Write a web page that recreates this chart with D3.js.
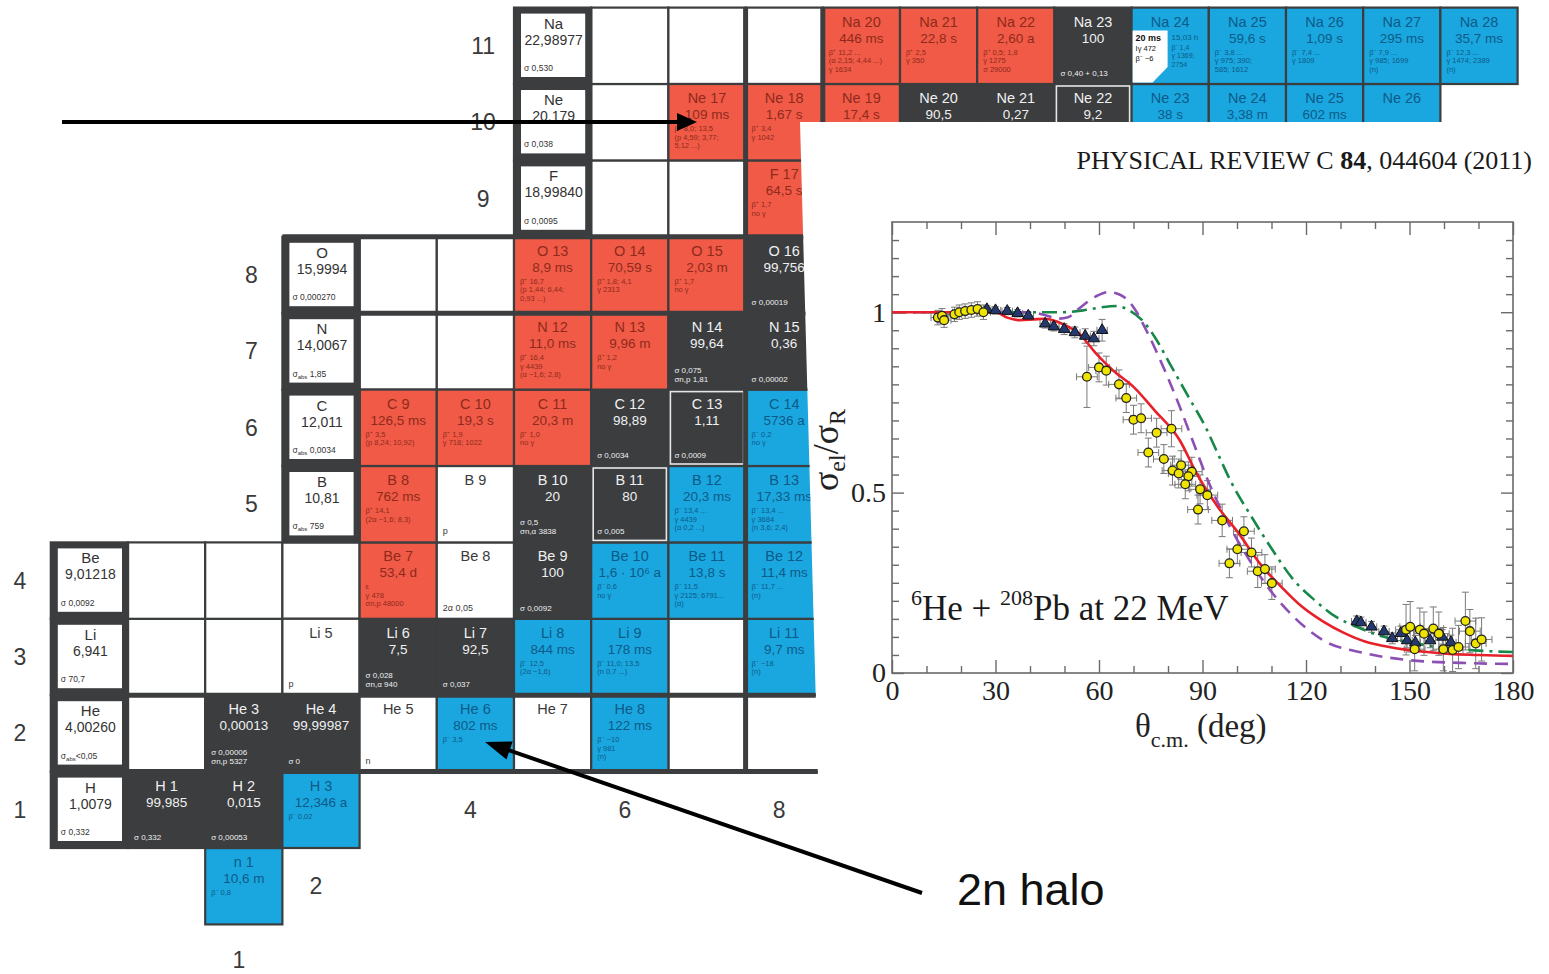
<!DOCTYPE html>
<html><head><meta charset="utf-8">
<script src="https://cdn.jsdelivr.net/npm/d3@7"></script>
<style>body{margin:0;background:#fff}svg{display:block}</style>
</head><body>
<svg id="c" width="1549" height="974"></svg>
<script>
// ================= DATA: chart of nuclides =================
const elemSymbols = ["H","He","Li","Be","B","C","N","O","F","Ne","Na"];
const elemZ       = [1,2,3,4,5,6,7,8,9,10,11];
const elemCol     = [-1,-1,-1,-1,2,2,2,2,5,5,5];
const elemWeights = ["1,0079","4,00260","6,941","9,01218","10,81","12,011","14,0067","15,9994","18,99840","20,179","22,98977"];
const elemSigma   = ["σ 0,332","σabs<0,05","σ 70,7","σ 0,0092","σabs 759","σabs 0,0034","σabs 1,85","σ 0,000270","σ 0,0095","σ 0,038","σ 0,530"];

const emptyZ = [2,2,2,3,3,3,4,4,4,7,7,8,8,9,9,10,11,11,11];
const emptyN = [0,7,8,0,1,7,0,1,2,3,4,3,4,6,7,6,6,7,8];

const nucNames = ["n 1","H 1","H 2","H 3","He 3","He 4","He 5","He 6","He 7","He 8",
  "Li 5","Li 6","Li 7","Li 8","Li 9","Li 11",
  "Be 7","Be 8","Be 9","Be 10","Be 11","Be 12",
  "B 8","B 9","B 10","B 11","B 12","B 13",
  "C 9","C 10","C 11","C 12","C 13","C 14",
  "N 12","N 13","N 14","N 15",
  "O 13","O 14","O 15","O 16","F 17",
  "Ne 17","Ne 18","Ne 19","Ne 20","Ne 21","Ne 22","Ne 23","Ne 24","Ne 25","Ne 26",
  "Na 20","Na 21","Na 22","Na 23","Na 24","Na 25","Na 26","Na 27","Na 28"];
const nucZ = [0,1,1,1,2,2,2,2,2,2, 3,3,3,3,3,3, 4,4,4,4,4,4, 5,5,5,5,5,5, 6,6,6,6,6,6, 7,7,7,7, 8,8,8,8,9,
  10,10,10,10,10,10,10,10,10,10, 11,11,11,11,11,11,11,11,11];
const nucN = [1,0,1,2,1,2,3,4,5,6, 2,3,4,5,6,8, 3,4,5,6,7,8, 3,4,5,6,7,8, 3,4,5,6,7,8, 5,6,7,8, 5,6,7,8,8,
  7,8,9,10,11,12,13,14,15,16, 9,10,11,12,13,14,15,16,17];
// s = stable, p = beta+ / EC, m = beta-, u = particle unbound
const nucType = ["m","s","s","m","s","s","u","m","u","m", "u","s","s","m","m","m", "p","u","s","m","m","m",
  "p","u","s","s","m","m", "p","p","p","s","s","m", "p","p","s","s", "p","p","p","s","p",
  "p","p","p","s","s","s","m","m","m","m", "p","p","p","s","m","m","m","m","m"];
const nucValue = ["10,6 m","99,985","0,015","12,346 a","0,00013","99,99987","","802 ms","","122 ms",
  "","7,5","92,5","844 ms","178 ms","9,7 ms",
  "53,4 d","","100","1,6 · 10⁶ a","13,8 s","11,4 ms",
  "762 ms","","20","80","20,3 ms","17,33 ms",
  "126,5 ms","19,3 s","20,3 m","98,89","1,11","5736 a",
  "11,0 ms","9,96 m","99,64","0,36",
  "8,9 ms","70,59 s","2,03 m","99,756","64,5 s",
  "109 ms","1,67 s","17,4 s","90,5","0,27","9,2","38 s","3,38 m","602 ms","",
  "446 ms","22,8 s","2,60 a","100","15,03 h","59,6 s","1,09 s","295 ms","35,7 ms"];
const nucInfo = ["β⁻ 0,8","σ 0,332","σ 0,00053","β⁻ 0,02","σ 0,00006|σn,p 5327","σ 0","n","β⁻ 3,5","","β⁻ ~10|γ 981|(n)",
  "p","σ 0,028|σn,α 940","σ 0,037","β⁻ 12,5|(2α ~1,6)","β⁻ 11,0; 13,5|(n 0,7 ...)","β⁻ ~18|(n)",
  "ε|γ 478|σn,p 48000","2α 0,05","σ 0,0092","β⁻ 0,6|no γ","β⁻ 11,5|γ 2125; 6791...|(α)","β⁻ 11,7 ...|(n)",
  "β⁺ 14,1|(2α ~1,6; 8,3)","p","σ 0,5|σn,α 3838","σ 0,005","β⁻ 13,4 ...|γ 4439|(α 0,2 ...)","β⁻ 13,4 ...|γ 3684|(n 3,6; 2,4)",
  "β⁺ 3,5|(p 8,24; 10,92)","β⁺ 1,9|γ 718; 1022","β⁺ 1,0|no γ","σ 0,0034","σ 0,0009","β⁻ 0,2|no γ",
  "β⁺ 16,4|γ 4439|(α ~1,6; 2,8)","β⁺ 1,2|no γ","σ 0,075|σn,p 1,81","σ 0,00002",
  "β⁺ 16,7|(p 1,44; 6,44;|0,93 ...)","β⁺ 1,8; 4,1|γ 2313","β⁺ 1,7|no γ","σ 0,00019","β⁺ 1,7|no γ",
  "β⁺ 8,0; 13,5|(p 4,59; 3,77;|5,12 ...)","β⁺ 3,4|γ 1042","β⁺ 2,2|no γ","σ 0,039","σ 0,7","σ 0,046","β⁻ 4,4|γ 440","β⁻ 2,0|γ 472","β⁻ 7,3","",
  "β⁺ 11,2 ...|(α 2,15; 4,44 ...)|γ 1634","β⁺ 2,5|γ 350","β⁺ 0,5; 1,8|γ 1275|σ 29000","σ 0,40 + 0,13","β⁻ 1,4|γ 1369;|2754","β⁻ 3,8 ...|γ 975; 390;|585; 1612","β⁻ 7,4 ...|γ 1809","β⁻ 7,9 ...|γ 985; 1699|(n)","β⁻ 12,3 ...|γ 1474; 2389|(n)"];
const framedStable = ["B 11","C 13","Ne 22"];
const isoName  = ["Na 24"];
const isoLines = ["20 ms|Iγ 472|β⁻ ~6"];

const zLabels = ["1","2","3","4","5","6","7","8","9","10","11"];
const zLabelN = [-1.4,-1.4,-1.4,-1.4,1.6,1.6,1.6,1.6,4.6,4.6,4.6];
const nLabels = ["1","2","4","6","8"];
const nLabelN = [1,2,4,6,8];
const nLabelZ = [-1,0,1,1,1];

// ================= DATA: inset plot =================
const xMajorTicks = [0,30,60,90,120,150,180];
const xMinorTicks = [10,20,40,50,70,80,100,110,130,140,160,170];
const yMajorTicks = [0,0.5,1];
const yMinorTicks = [0.05,0.1,0.15,0.2,0.25,0.3,0.35,0.4,0.45,0.55,0.6,0.65,0.7,0.75,0.8,0.85,0.9,0.95,1.05,1.1,1.15,1.2];

const redTheta = [0,20,30,33.4,37,41,44.4,48.1,51,54.2,59.1,64,70,76.1,83.4,88.3,94.4,100.5,106.6,112.7,118.8,124.9,131,137.1,143,149.3,155,161.5,170,180];
const redRatio = [1,1,1,0.985,0.978,0.98,0.982,0.973,0.96,0.941,0.886,0.839,0.793,0.728,0.645,0.553,0.461,0.387,0.304,0.24,0.184,0.143,0.111,0.087,0.074,0.064,0.058,0.053,0.05,0.047];
const greenTheta = [0,40,45,49.3,55.4,60.3,65.1,68.8,72.6,76.1,81,85.9,90.8,94.4,98,104.2,110.3,116.4,122.5,128.6,134.7,141,150,160,170,180];
const greenRatio = [1,1,1,1,1.005,1.013,1.017,1.005,0.977,0.932,0.849,0.766,0.683,0.609,0.535,0.433,0.341,0.258,0.202,0.156,0.128,0.105,0.085,0.07,0.062,0.058];
const purpleTheta = [0,40,45,48.1,51,54.2,59.1,62.7,66.4,70,73.7,78.6,83.4,87.1,91.9,98,104.2,110.3,116.4,124.9,137.1,149.3,165,180];
const purpleRatio = [1,1,0.99,0.982,0.986,1.01,1.044,1.056,1.047,1.014,0.95,0.849,0.738,0.645,0.526,0.405,0.304,0.221,0.156,0.091,0.055,0.036,0.028,0.025];

const yellowTheta = [13.3,14.5,15.1,18.1,19.5,21.2,23.0,24.8,26.5,
  56.5,60.0,62.1,65.8,67.9,70.0,72.2,76.7,81.0,74.3,78.8,81.3,83.1,83.8,86.9,85.9,85.0,89.3,91.4,88.7,95.7,102.0,100.1,104.2,97.8,106.0,108.1,110.1,
  149.0,150.2,153.0,154.2,156.9,158.5,151.5,159.8,162.5,164.2,166.2,167.5,169.2,170.9];
const yellowRatio = [0.985,0.99,0.978,0.994,1.0,1.003,1.006,1.009,1.0,
  0.821,0.847,0.838,0.800,0.762,0.702,0.706,0.666,0.677,0.611,0.593,0.561,0.553,0.576,0.558,0.545,0.523,0.509,0.493,0.453,0.423,0.393,0.343,0.334,0.304,0.282,0.288,0.249,
  0.120,0.128,0.120,0.109,0.123,0.109,0.066,0.066,0.064,0.072,0.144,0.116,0.082,0.093];
const yellowDy = [0.02,0.02,0.02,0.02,0.02,0.02,0.02,0.02,0.02,
  0.085,0.04,0.04,0.04,0.04,0.04,0.04,0.04,0.05,0.04,0.04,0.04,0.04,0.04,0.04,0.04,0.04,0.04,0.04,0.04,0.045,0.04,0.04,0.04,0.04,0.045,0.04,0.045,
  0.07,0.07,0.06,0.06,0.06,0.06,0.06,0.06,0.06,0.06,0.08,0.06,0.07,0.06];
const yellowDx = [2,2,2,2,2,2,2,2,2,
  3,3,3,3,3,3,3,3,3,3,3,3,3,3,3,3,3,3,3,3,3,3,3,3,3,3,3,3,
  3,3,3,3,3,3,3,3,3,3,3,3,3,3];
const triTheta = [27.5,30,33.4,36.4,39.5,44.4,46.9,49.9,53.0,56.0,58.5,60.9,
  134.7,135.9,139.0,142.6,145.0,147.5,149.3,151.7,156.0,159.5,162.0];
const triRatio = [1.008,1.005,1.003,0.997,0.99,0.968,0.960,0.953,0.944,0.934,0.927,0.950,
  0.143,0.140,0.128,0.115,0.096,0.110,0.090,0.084,0.090,0.100,0.085];
const triDy = [0.01,0.01,0.01,0.01,0.01,0.012,0.012,0.015,0.015,0.02,0.02,0.03,
  0.015,0.015,0.015,0.015,0.015,0.02,0.02,0.02,0.02,0.02,0.02];
const triDx = [1.5,1.5,1.5,1.5,1.5,1.5,1.5,1.5,1.5,1.5,1.5,1.5,
  1.5,1.5,1.5,1.5,1.5,1.5,1.5,1.5,1.5,1.5,1.5];

// ================= DRAWING =================
const svg = d3.select("#c");
const SANS = "'Liberation Sans', Arial, sans-serif";
const SERIF = "'Liberation Serif', 'Times New Roman', serif";
const DARK = "#3b3d3f";
const typeFill = {s: DARK, p: "#f15a46", m: "#1aa7df", u: "#ffffff"};
const typeText = {s: "#f0f0f0", p: "#8e2a1c", m: "#0d5a88", u: "#3a3a3a"};

const xN = d3.scaleLinear().domain([0,17]).range([128,1440.4]);
const yZ = d3.scaleLinear().domain([0,11]).range([848,7.6]);
const cw = xN(1) - xN(0), ch = yZ(0) - yZ(1);

// visible region of the scanned chart (the inset page covers the rest)
const CLIP_TOP = 122;
function visible(x, y){ return y < CLIP_TOP || x < 800 + (y - CLIP_TOP) * 18 / 658; }

svg.append("defs").append("clipPath").attr("id","chartClip")
  .append("polygon").attr("points","0,0 1549,0 1549,122 800,122 818,780 818,974 0,974");

const chart = svg.append("g").attr("clip-path","url(#chartClip)");

// empty cells
chart.append("g").selectAll("rect").data(d3.range(emptyZ.length)).join("rect")
  .attr("x", i => xN(emptyN[i])).attr("y", i => yZ(emptyZ[i]))
  .attr("width", cw).attr("height", ch)
  .attr("fill","#fff").attr("stroke", DARK).attr("stroke-width", 2.2);

// nuclide cells
const nIdx = d3.range(nucNames.length);
chart.append("g").selectAll("rect").data(nIdx).join("rect")
  .attr("x", i => xN(nucN[i])).attr("y", i => yZ(nucZ[i]))
  .attr("width", cw).attr("height", ch)
  .attr("fill", i => typeFill[nucType[i]]).attr("stroke", DARK).attr("stroke-width", 2.2);

chart.append("g").selectAll("rect").data(nIdx.filter(i => framedStable.includes(nucNames[i]))).join("rect")
  .attr("x", i => xN(nucN[i]) + 2).attr("y", i => yZ(nucZ[i]) + 2)
  .attr("width", cw - 4).attr("height", ch - 4)
  .attr("fill","none").attr("stroke","#e6e6e6").attr("stroke-width",1.6);

// element boxes
const eIdx = d3.range(elemSymbols.length);
chart.append("g").selectAll("rect").data(eIdx).join("rect")
  .attr("x", i => xN(elemCol[i])).attr("y", i => yZ(elemZ[i]))
  .attr("width", cw).attr("height", ch).attr("fill", DARK).attr("stroke", DARK).attr("stroke-width", 2.2);
chart.append("g").selectAll("rect").data(eIdx).join("rect")
  .attr("x", i => xN(elemCol[i]) + 7).attr("y", i => yZ(elemZ[i]) + 6)
  .attr("width", cw - 13).attr("height", ch - 13).attr("fill", "#fff");

// magic-number lines
const magic = chart.append("g").attr("stroke", DARK).attr("stroke-width", 5);
[8,9].forEach(n => magic.append("line").attr("x1", xN(n)).attr("x2", xN(n)).attr("y1", yZ(11)).attr("y2", yZ(1)));
[8,7].forEach(z => magic.append("line").attr("x1", xN(2)).attr("x2", xN(9)).attr("y1", yZ(z)).attr("y2", yZ(z)));
[2,1].forEach(z => magic.append("line").attr("x1", xN(-1)).attr("x2", xN(9)).attr("y1", yZ(z)).attr("y2", yZ(z)));

// isomer corner of Na 24
isoName.forEach((nm, k) => {
  const i = nucNames.indexOf(nm);
  const x0 = xN(nucN[i]), y0 = yZ(nucZ[i]);
  chart.append("polygon")
    .attr("points", [[x0+1,y0+23],[x0+36,y0+23],[x0+36,y0+ch-17],[x0+21,y0+ch-1.5],[x0+1,y0+ch-1.5]].map(p => p.join(",")).join(" "))
    .attr("fill","#fff");
  isoLines[k].split("|").forEach((t, j) => chart.append("text")
    .attr("x", x0 + 4).attr("y", y0 + 33 + j*10).text(t)
    .attr("font-family", SANS).attr("font-size", j === 0 ? 9 : 7.5).attr("font-weight", j === 0 ? "bold" : "normal").attr("fill","#111"));
});

// cell texts (only those in the visible part of the scan)
const txt = chart.append("g").attr("font-family", SANS);
function put(x, y, s, size, col, anchor){
  if (!visible(x, y - size*0.6)) return;
  txt.append("text").attr("x", x).attr("y", y).attr("text-anchor", anchor || "start")
    .attr("font-size", size).attr("fill", col).text(s);
}
nIdx.forEach(i => {
  const x0 = xN(nucN[i]), y0 = yZ(nucZ[i]), t = nucType[i];
  const col = typeText[t];
  const iso = isoName.includes(nucNames[i]);
  put(x0 + cw/2, y0 + 19, nucNames[i], 14.5, col, "middle");
  const info = nucInfo[i] ? nucInfo[i].split("|") : [];
  if (iso) {
    put(x0 + 40, y0 + 32, nucValue[i], 8, col);
    info.forEach((s, j) => put(x0 + 40, y0 + 42 + j*8.5, s, 7, col));
    return;
  }
  if (nucValue[i]) put(x0 + cw/2, y0 + 35, nucValue[i], 13.5, col, "middle");
  if (t === "s" || t === "u") {
    info.forEach((s, j) => put(x0 + 6, y0 + ch - 8 - (info.length - 1 - j)*9, s, t === "u" ? 9 : 8, col));
  } else {
    info.forEach((s, j) => put(x0 + 6, y0 + 47 + j*8.5, s, 7.5, col));
  }
});

// element box texts
eIdx.forEach(i => {
  const x0 = xN(elemCol[i]), y0 = yZ(elemZ[i]);
  txt.append("text").attr("x", x0 + cw/2 + 1).attr("y", y0 + 21).attr("text-anchor","middle")
    .attr("font-size", 15).attr("fill","#333").text(elemSymbols[i]);
  txt.append("text").attr("x", x0 + cw/2 + 1).attr("y", y0 + 37).attr("text-anchor","middle")
    .attr("font-size", 14).attr("fill","#333").text(elemWeights[i]);
  const s = elemSigma[i];
  const t = txt.append("text").attr("x", x0 + 10).attr("y", y0 + ch - 13).attr("font-size", 8.5).attr("fill","#333");
  if (s.startsWith("σabs")) {
    t.append("tspan").text("σ");
    t.append("tspan").attr("font-size", 6).attr("dy", 2).text("abs");
    t.append("tspan").attr("dy", -2).text(s.slice(4));
  } else t.text(s);
});

// axis labels of the chart (Z and N)
const lab = chart.append("g").attr("font-family", SANS).attr("font-size", 23).attr("fill","#3a3a3a").attr("text-anchor","middle");
zLabels.forEach((s, i) => lab.append("text").attr("x", xN(zLabelN[i])).attr("y", yZ(i+1) + ch/2 + 8).text(s));
nLabels.forEach((s, i) => lab.append("text").attr("x", xN(nLabelN[i]) + cw/2 - 5).attr("y", Math.min(yZ(nLabelZ[i]) + ch/2 + 8, 968)).text(s));

// ================= INSET PLOT =================
const xS = d3.scaleLinear().domain([0,180]).range([892,1513]);
const yS = d3.scaleLinear().domain([0,1.25]).range([673,222]);
const plot = svg.append("g");

plot.append("text").attr("x", 1532).attr("y", 169).attr("text-anchor","end")
  .attr("font-family", SERIF).attr("font-size", 26).attr("fill","#1a1a1a")
  .call(t => { t.append("tspan").text("PHYSICAL REVIEW C ");
               t.append("tspan").attr("font-weight","bold").text("84");
               t.append("tspan").text(", 044604 (2011)"); });

plot.append("rect").attr("x", xS(0)).attr("y", yS(1.25)).attr("width", xS(180)-xS(0)).attr("height", yS(0)-yS(1.25))
  .attr("fill","none").attr("stroke","#6a6a6a").attr("stroke-width",1.6);

function styleAxis(g){
  g.select(".domain").remove();
  g.selectAll(".tick line").attr("stroke","#6a6a6a").attr("stroke-width",1.4);
  g.selectAll(".tick text").attr("font-family", SERIF).attr("font-size", 28).attr("fill","#222");
}
const fmt = d3.format("~g");
plot.append("g").attr("transform",`translate(0,${yS(0)})`)
  .call(d3.axisBottom(xS).tickValues(xMajorTicks).tickSizeInner(-13).tickSizeOuter(0).tickPadding(7).tickFormat(fmt)).call(styleAxis);
plot.append("g").attr("transform",`translate(0,${yS(0)})`)
  .call(d3.axisBottom(xS).tickValues(xMinorTicks).tickSizeInner(-7).tickSizeOuter(0).tickFormat("")).call(styleAxis);
plot.append("g").attr("transform",`translate(0,${yS(1.25)})`)
  .call(d3.axisTop(xS).tickValues(xMajorTicks).tickSizeInner(-13).tickSizeOuter(0).tickFormat("")).call(styleAxis);
plot.append("g").attr("transform",`translate(0,${yS(1.25)})`)
  .call(d3.axisTop(xS).tickValues(xMinorTicks).tickSizeInner(-7).tickSizeOuter(0).tickFormat("")).call(styleAxis);
plot.append("g").attr("transform",`translate(${xS(0)},0)`)
  .call(d3.axisLeft(yS).tickValues(yMajorTicks).tickSizeInner(-12).tickSizeOuter(0).tickPadding(6).tickFormat(fmt)).call(styleAxis);
plot.append("g").attr("transform",`translate(${xS(0)},0)`)
  .call(d3.axisLeft(yS).tickValues(yMinorTicks).tickSizeInner(-7).tickSizeOuter(0).tickFormat("")).call(styleAxis);
plot.append("g").attr("transform",`translate(${xS(180)},0)`)
  .call(d3.axisRight(yS).tickValues(yMajorTicks).tickSizeInner(-12).tickSizeOuter(0).tickFormat("")).call(styleAxis);
plot.append("g").attr("transform",`translate(${xS(180)},0)`)
  .call(d3.axisRight(yS).tickValues(yMinorTicks).tickSizeInner(-7).tickSizeOuter(0).tickFormat("")).call(styleAxis);

// axis titles
plot.append("text").attr("transform","translate(838,450) rotate(-90)").attr("text-anchor","middle")
  .attr("font-family", SERIF).attr("font-size", 36).attr("fill","#222")
  .call(t => { t.append("tspan").text("σ");
               t.append("tspan").attr("font-size",24).attr("dy",7).text("el");
               t.append("tspan").attr("dy",-7).text("/σ");
               t.append("tspan").attr("font-size",24).attr("dy",7).text("R"); });
plot.append("text").attr("x", 1135).attr("y", 737)
  .attr("font-family", SERIF).attr("font-size", 33).attr("fill","#222")
  .call(t => { t.append("tspan").text("θ");
               t.append("tspan").attr("font-size",22).attr("dy",10).text("c.m.");
               t.append("tspan").attr("dy",-10).text(" (deg)"); });

plot.append("text").attr("x", 911).attr("y", 620)
  .attr("font-family", SERIF).attr("font-size", 35).attr("fill","#1a1a1a")
  .call(t => { t.append("tspan").attr("font-size",22).attr("dy",-15).text("6");
               t.append("tspan").attr("dy",15).text("He + ");
               t.append("tspan").attr("font-size",22).attr("dy",-15).text("208");
               t.append("tspan").attr("dy",15).text("Pb at 22 MeV"); });

// error bars
const eb = plot.append("g").attr("stroke","#7a7a7a").attr("stroke-width",1);
function errBars(th, v, dy, dx){
  th.forEach((t, i) => {
    const x = xS(t), y = yS(v[i]), y1 = yS(v[i]-dy[i]), y2 = yS(v[i]+dy[i]);
    const xa = xS(t - dx[i]), xb = xS(t + dx[i]);
    eb.append("line").attr("x1",x).attr("x2",x).attr("y1",y1).attr("y2",y2);
    eb.append("line").attr("x1",x-3.5).attr("x2",x+3.5).attr("y1",y1).attr("y2",y1);
    eb.append("line").attr("x1",x-3.5).attr("x2",x+3.5).attr("y1",y2).attr("y2",y2);
    eb.append("line").attr("x1",xa).attr("x2",xb).attr("y1",y).attr("y2",y);
    eb.append("line").attr("x1",xa).attr("x2",xa).attr("y1",y-3.5).attr("y2",y+3.5);
    eb.append("line").attr("x1",xb).attr("x2",xb).attr("y1",y-3.5).attr("y2",y+3.5);
  });
}
errBars(yellowTheta, yellowRatio, yellowDy, yellowDx);
errBars(triTheta, triRatio, triDy, triDx);

// curves
const line = d3.line().x(d => xS(d[0])).y(d => yS(d[1])).curve(d3.curveMonotoneX);
plot.append("path").datum(d3.zip(greenTheta, greenRatio)).attr("d", line)
  .attr("fill","none").attr("stroke","#17884a").attr("stroke-width",2.6).attr("stroke-dasharray","15,6,3,6");
plot.append("path").datum(d3.zip(purpleTheta, purpleRatio)).attr("d", line)
  .attr("fill","none").attr("stroke","#8c50b4").attr("stroke-width",2.6).attr("stroke-dasharray","13,8");
plot.append("path").datum(d3.zip(redTheta, redRatio)).attr("d", line)
  .attr("fill","none").attr("stroke","#e8202a").attr("stroke-width",2.6);

// markers
plot.append("g").selectAll("path").data(d3.range(triTheta.length)).join("path")
  .attr("d", d3.symbol(d3.symbolTriangle).size(55))
  .attr("transform", i => `translate(${xS(triTheta[i])},${yS(triRatio[i])})`)
  .attr("fill","#22386e").attr("stroke","#111").attr("stroke-width",1);
plot.append("g").selectAll("circle").data(d3.range(yellowTheta.length)).join("circle")
  .attr("cx", i => xS(yellowTheta[i])).attr("cy", i => yS(yellowRatio[i])).attr("r", 4.4)
  .attr("fill","#efe300").attr("stroke","#222").attr("stroke-width",1.3);

// ================= ANNOTATIONS =================
function arrow(x1, y1, x2, y2, L, w){
  const dx = x2 - x1, dy = y2 - y1, len = Math.hypot(dx, dy), ux = dx/len, uy = dy/len;
  const bx = x2 - ux*L, by = y2 - uy*L, px = -uy*w/2, py = ux*w/2;
  svg.append("line").attr("x1",x1).attr("y1",y1).attr("x2",bx+ux*2).attr("y2",by+uy*2)
    .attr("stroke","#000").attr("stroke-width",4);
  svg.append("polygon").attr("points",`${x2},${y2} ${bx+px},${by+py} ${bx-px},${by-py}`).attr("fill","#000");
}
arrow(62, 122, 697, 122, 20, 18);
arrow(922, 893, 485, 742, 26, 19);
svg.append("text").attr("x", 957).attr("y", 905).attr("font-family", SANS).attr("font-size", 45)
  .attr("fill","#111").text("2n halo");
</script>
</body></html>
